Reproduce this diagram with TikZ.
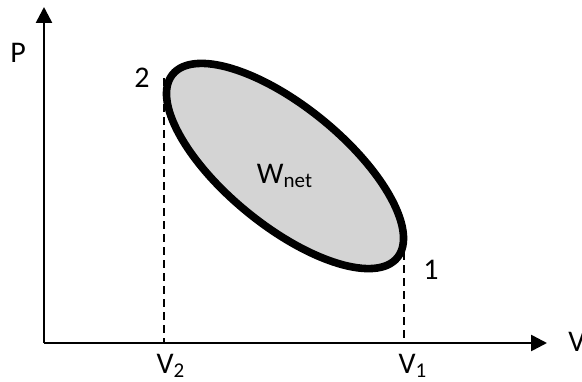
\documentclass[tikz,border=0pt]{standalone}
\usepackage{fontspec}
\setmainfont{Carlito}
\usetikzlibrary{arrows.meta,positioning}

\begin{document}
\begin{tikzpicture}[x=0.5pt,y=0.5pt,
    axis/.style={line width=1.3pt,-{Triangle[length=8pt,width=8pt]}},
    guide/.style={line width=1pt,dash pattern=on 4pt off 2.5pt},
    process/.style={line width=3.8pt,fill=black!17},
    lbl/.style={font=\fontsize{15}{18}\selectfont,inner sep=0pt},
  ]
  \useasboundingbox (0,0) rectangle (582,381);

  % Points
  \coordinate (O) at (44,38);
  \coordinate (Ptip) at (44,374);
  \coordinate (Vtip) at (547,38);
  \coordinate (pt2) at (164,303);
  \coordinate (V2) at (164,38);
  \coordinate (pt1) at (404,129);
  \coordinate (V1) at (404,38);

  % Dashed guides
  \draw[guide] (pt2) -- (V2);
  \draw[guide] (pt1) -- (V1);

  % Cycle
  \draw[process,rotate around={-39.2:(285,215)}] (285,215) ellipse [x radius=145,y radius=59.5];

  % Axes
  \draw[axis] (O) -- (Ptip);
  \draw[axis] (O) -- (Vtip);

  % Labels
  \node[lbl] (lP) at (18,328) {P};
  \node[lbl,left=7pt of pt2] (l2) {2};
  \node[lbl] (l1) at (431,111) {1};
  \node[lbl,anchor=base] (lW) at (285,198) {W\textsubscript{net}};
  \node[lbl,anchor=base] (lV2) at (171,8) {V\textsubscript{2}};
  \node[lbl,anchor=base] (lV1) at (413,8) {V\textsubscript{1}};
  \node[lbl,anchor=base west] (lV) at (568,30) {V};
\end{tikzpicture}
\end{document}
